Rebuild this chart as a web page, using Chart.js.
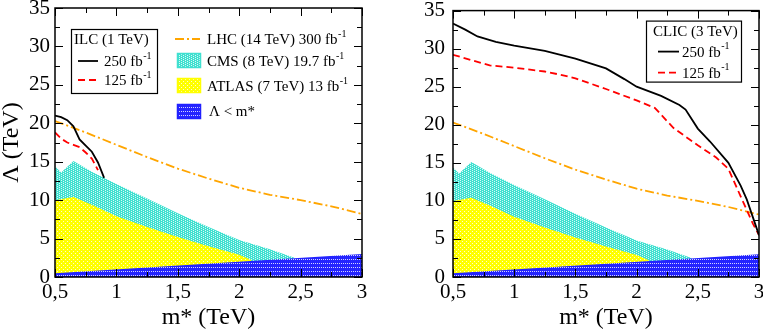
<!DOCTYPE html>
<html>
<head>
<meta charset="utf-8">
<script src="https://cdn.jsdelivr.net/npm/chart.js@4.4.0/dist/chart.umd.min.js"></script>
<style>
html, body { margin: 0; padding: 0; background: #fff; overflow: hidden; width: 763px; height: 331px; position: relative; }
canvas { position: absolute; top: -10px; }
#left { left: 0; }
#right { left: 383px; }
</style>
</head>
<body>
<canvas id="left" width="380" height="341"></canvas>
<canvas id="right" width="390" height="341"></canvas>
<script>
// m* (TeV) and Lambda (TeV)
const xTickLabels = ['0,5', '1', '1,5', '2', '2,5', '3'];
const yTickLabels = ['0', '5', '10', '15', '20', '25', '30', '35'];

const lhcM = [0.5, 0.75, 1.0, 1.25, 1.5, 1.75, 2.0, 2.25, 2.5, 2.75, 3.0];
const lhcL = [20.3, 18.8, 17.2, 15.6, 14.1, 12.8, 11.6, 10.7, 10.0, 9.2, 8.2];

const cmsM = [0.5, 0.55, 0.65, 0.8, 1.0, 1.25, 1.5, 1.75, 2.0, 2.25, 2.45];
const cmsL = [14.4, 13.6, 15.1, 13.7, 12.1, 10.2, 8.3, 6.5, 4.8, 3.6, 2.5];

const atlasM = [0.5, 0.65, 0.8, 1.0, 1.25, 1.5, 1.75, 2.0, 2.1];
const atlasL = [10.0, 10.4, 9.4, 7.9, 6.5, 5.2, 4.0, 2.9, 2.2];

const boundM = [0.5, 3.0];
const boundL = [0.5, 3.0];

const ilc250M = [0.5, 0.55, 0.6, 0.65, 0.7, 0.75, 0.8, 0.85, 0.9];
const ilc250L = [21.0, 20.8, 20.4, 19.6, 17.9, 17.1, 16.3, 14.9, 12.9];
const ilc125M = [0.5, 0.55, 0.6, 0.65, 0.7, 0.75, 0.8, 0.85];
const ilc125L = [18.8, 18.0, 17.5, 17.2, 16.9, 16.2, 15.4, 13.9];

const clic250M = [0.5, 0.6, 0.7, 0.85, 1.0, 1.25, 1.5, 1.75, 1.9, 2.0, 2.2, 2.35, 2.4, 2.5, 2.6, 2.75, 2.85, 2.9, 3.0];
const clic250L = [33.3, 32.5, 31.6, 30.9, 30.4, 29.7, 28.7, 27.4, 26.0, 25.0, 23.8, 22.6, 22.0, 19.5, 17.8, 15.0, 12.0, 10.2, 5.5];
const clic125M = [0.5, 0.65, 0.8, 1.0, 1.25, 1.4, 1.5, 1.75, 2.0, 2.15, 2.3, 2.5, 2.65, 2.75, 2.85, 2.95, 3.0];
const clic125L = [29.2, 28.5, 27.8, 27.5, 27.0, 26.5, 26.1, 24.7, 23.2, 22.2, 19.6, 17.3, 15.7, 14.2, 10.6, 7.0, 5.5];

const serif = 'Liberation Serif';
Chart.defaults.font.family = serif;
Chart.defaults.color = '#000';
const patterns = {};

function pts(m, l) {
  return m.map((x, i) => ({ x: x, y: l[i] }));
}

function makePattern(ctx, base, dots) {
  const c = document.createElement('canvas');
  c.width = 4; c.height = 4;
  const g = c.getContext('2d');
  g.fillStyle = base;
  g.fillRect(0, 0, 4, 4);
  g.fillStyle = 'rgba(255,255,255,0.8)';
  dots.forEach(d => g.fillRect(d[0], d[1], 1, 1));
  return ctx.createPattern(c, 'repeat');
}

function line(m, l, color, width, dash, order) {
  return { data: pts(m, l), borderColor: color, borderWidth: width, borderDash: dash,
    pointRadius: 0, fill: false, tension: 0, order: order };
}

function area(m, l, bg, order) {
  return { data: pts(m, l), backgroundColor: bg, borderColor: 'rgba(0,0,0,0)', borderWidth: 0,
    pointRadius: 0, fill: 'origin', tension: 0, order: order };
}

function supText(ctx, x, y, main, sup) {
  ctx.font = '15px "' + serif + '"';
  ctx.fillText(main, x, y);
  const w = ctx.measureText(main).width;
  ctx.font = '10px "' + serif + '"';
  ctx.fillText(sup, x + w + 0.5, y - 6);
}

function legendLine(ctx, x1, x2, y, color, width, dash) {
  ctx.save();
  ctx.strokeStyle = color;
  ctx.lineWidth = width;
  ctx.setLineDash(dash);
  ctx.beginPath();
  ctx.moveTo(x1, y);
  ctx.lineTo(x2, y);
  ctx.stroke();
  ctx.restore();
}

function legendBox(ctx, x, y, w, h, fill, edge) {
  ctx.fillStyle = fill;
  ctx.fillRect(x, y, w, h);
  ctx.strokeStyle = edge;
  ctx.lineWidth = 1.5;
  ctx.strokeRect(x + 0.5, y + 0.5, w - 1, h - 1);
}

// box around the plot with inward ticks on all four sides, plus the legends
const frame = {
  id: 'frame',
  afterDatasetsDraw(chart) {
    const ctx = chart.ctx, a = chart.chartArea;
    const x = chart.scales.x, y = chart.scales.y;
    ctx.save();
    ctx.strokeStyle = '#000';
    ctx.lineWidth = 1;
    ctx.beginPath();
    for (let i = 0; i <= 10; i++) {
      const px = Math.round(x.getPixelForValue(0.5 + i * 0.25)) + 0.5;
      const len = i % 2 ? 5 : 8;
      ctx.moveTo(px, a.bottom); ctx.lineTo(px, a.bottom - len);
      ctx.moveTo(px, a.top); ctx.lineTo(px, a.top + len);
    }
    for (let i = 0; i <= 14; i++) {
      const py = Math.round(y.getPixelForValue(i * 2.5)) + 0.5;
      const len = i % 2 ? 5 : 8;
      ctx.moveTo(a.left, py); ctx.lineTo(a.left + len, py);
      ctx.moveTo(a.right, py); ctx.lineTo(a.right - len, py);
    }
    ctx.stroke();
    ctx.lineWidth = 1.5;
    ctx.strokeRect(a.left, a.top, a.right - a.left, a.bottom - a.top);
    ctx.restore();
  },
  afterDraw(chart) {
    const ctx = chart.ctx, a = chart.chartArea;
    const L = a.left, T = a.top;
    const pat = patterns[chart.canvas.id];
    ctx.save();
    ctx.fillStyle = '#000';
    ctx.textBaseline = 'middle';
    ctx.textAlign = 'left';
    if (chart.canvas.id === 'left') {
      ctx.strokeStyle = '#000';
      ctx.lineWidth = 1.2;
      ctx.strokeRect(L + 16.5, T + 21.5, 86, 64);
      ctx.font = '15px "' + serif + '"';
      ctx.fillText('ILC (1 TeV)', L + 19, T + 32);
      legendLine(ctx, L + 23, L + 43, T + 53, '#000', 1.8, []);
      supText(ctx, L + 49, T + 54, '250 fb', '-1');
      legendLine(ctx, L + 23, L + 43, T + 72, '#ff0000', 1.8, [7, 4]);
      supText(ctx, L + 49, T + 73, '125 fb', '-1');

      legendLine(ctx, L + 120, L + 145, T + 31, '#ffa500', 1.8, [9, 3, 2, 3]);
      ctx.fillStyle = '#000';
      supText(ctx, L + 152, T + 32, 'LHC (14 TeV) 300 fb', '-1');
      legendBox(ctx, L + 122, T + 45, 24, 15, pat.cms, '#40e0d0');
      ctx.fillStyle = '#000';
      supText(ctx, L + 152, T + 54, 'CMS (8 TeV) 19.7 fb', '-1');
      legendBox(ctx, L + 122, T + 70, 24, 15, pat.atlas, '#ffff00');
      ctx.fillStyle = '#000';
      supText(ctx, L + 152, T + 79, 'ATLAS (7 TeV) 13 fb', '-1');
      legendBox(ctx, L + 122, T + 96, 24, 15, pat.bound, '#2020ff');
      ctx.fillStyle = '#000';
      ctx.font = '15px "' + serif + '"';
      ctx.fillText('\u039B < m*', L + 154, T + 104);
    } else {
      ctx.fillStyle = '#fff';
      ctx.fillRect(L + 193, T + 10, 95, 61);
      ctx.fillStyle = '#000';
      ctx.strokeStyle = '#000';
      ctx.lineWidth = 1.2;
      ctx.strokeRect(L + 193.5, T + 10.5, 95, 61);
      ctx.font = '15px "' + serif + '"';
      ctx.fillText('CLIC (3 TeV)', L + 200, T + 21);
      legendLine(ctx, L + 205, L + 226, T + 41, '#000', 1.8, []);
      supText(ctx, L + 229, T + 42, '250 fb', '-1');
      legendLine(ctx, L + 205, L + 226, T + 62, '#ff0000', 1.8, [7, 4]);
      supText(ctx, L + 229, T + 63, '125 fb', '-1');
    }
    ctx.restore();
  }
};

function makeChart(id, curve250, curve125, yWidth, padRight, showYTitle) {
  const ctx = document.getElementById(id).getContext('2d');
  const pat = {
    cms: makePattern(ctx, '#40e0d0', [[1, 0], [1, 2], [3, 1], [3, 3]]),
    atlas: makePattern(ctx, '#ffff00', [[1, 1], [3, 3]]),
    bound: makePattern(ctx, '#2424ff', [[1, 1], [3, 1]])
  };
  patterns[id] = pat;
  return new Chart(ctx, {
    type: 'line',
    data: {
      datasets: [
        area(cmsM, cmsL, pat.cms, 6),
        area(atlasM, atlasL, pat.atlas, 5),
        area(boundM, boundL, pat.bound, 4),
        line(lhcM, lhcL, '#ffa500', 1.8, [9, 3, 2, 3], 3),
        line(curve125[0], curve125[1], '#ff0000', 1.8, [7, 4], 2),
        line(curve250[0], curve250[1], '#000000', 1.8, [], 1)
      ]
    },
    options: {
      responsive: false,
      animation: false,
      devicePixelRatio: 1,
      layout: { padding: { left: 0, right: padRight, top: 18, bottom: 0 } },
      plugins: { legend: { display: false }, tooltip: { enabled: false } },
      scales: {
        x: {
          type: 'linear', min: 0.5, max: 3,
          grid: { display: false, drawTicks: false }, border: { display: false },
          afterFit: s => { s.height = 54; },
          ticks: {
            stepSize: 0.5, padding: 3, color: '#000', maxRotation: 0,
            font: { size: 21 },
            callback: v => xTickLabels[Math.round((v - 0.5) / 0.5)]
          },
          title: {
            display: true, text: 'm* (TeV)', color: '#000',
            font: { size: 24, lineHeight: 1 }, padding: { top: 0, bottom: 1 }
          }
        },
        y: {
          min: 0, max: 35,
          grid: { display: false, drawTicks: false }, border: { display: false },
          afterFit: s => { s.width = yWidth; },
          ticks: {
            stepSize: 5, padding: showYTitle ? 5 : 8, color: '#000',
            font: { size: 21 },
            callback: v => yTickLabels[Math.round(v / 5)]
          },
          title: {
            display: showYTitle, text: '\u039B (TeV)', color: '#000',
            font: { size: 24, lineHeight: 1 }, padding: { top: 0, bottom: 0 }
          }
        }
      }
    },
    plugins: [frame]
  });
}

makeChart('left', [ilc250M, ilc250L], [ilc125M, ilc125L], 55, 18, true);
makeChart('right', [clic250M, clic250L], [clic125M, clic125L], 70, 14, false);
</script>
</body>
</html>
